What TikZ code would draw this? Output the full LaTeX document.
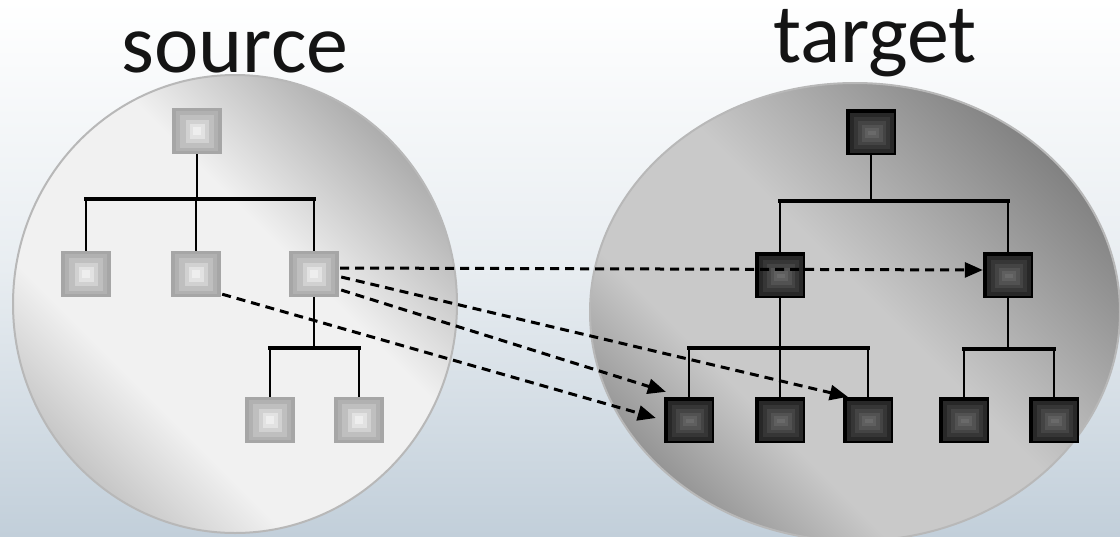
\documentclass[tikz,border=0pt]{standalone}
\usepackage{fontspec}
\setmainfont{Carlito}
\usetikzlibrary{arrows.meta}
\definecolor{bgmid}{HTML}{E8EDF1}
\definecolor{bgbot}{HTML}{C2CFDA}
\definecolor{sA}{HTML}{A6A6A6}
\definecolor{sB}{HTML}{B1B1B1}
\definecolor{sC}{HTML}{BFBFBF}
\definecolor{sD}{HTML}{D1D1D1}
\definecolor{sE}{HTML}{E2E2E2}
\definecolor{sF}{HTML}{EEEEEE}
\definecolor{tA}{HTML}{282828}
\definecolor{tB}{HTML}{363636}
\definecolor{tC}{HTML}{444444}
\definecolor{tD}{HTML}{525252}
\definecolor{tE}{HTML}{5F5F5F}
\definecolor{tF}{HTML}{6A6A6A}
\definecolor{txt}{HTML}{141414}
\definecolor{rim}{HTML}{B8B8B8}
\definecolor{eSl}{HTML}{C6C6C6}
\definecolor{eSm}{HTML}{F1F1F1}
\definecolor{eSr}{HTML}{ADADAD}
\definecolor{eTl}{HTML}{969696}
\definecolor{eTm}{HTML}{C9C9C9}
\definecolor{eTr}{HTML}{828282}
\pgfdeclarehorizontalshading{srcshade}{100bp}{color(0bp)=(eSl); color(25bp)=(eSl); color(36bp)=(eSm); color(58bp)=(eSm); color(75bp)=(eSr); color(100bp)=(eSr)}
\pgfdeclarehorizontalshading{tgtshade}{100bp}{color(0bp)=(eTl); color(25bp)=(eTl); color(36bp)=(eTm); color(52bp)=(eTm); color(75bp)=(eTr); color(100bp)=(eTr)}
\newcommand\nrect[5]{\fill[#1] ([shift={(#2pt,#3pt)}]path picture bounding box.center) rectangle ([shift={(#4pt,#5pt)}]path picture bounding box.center);}
\tikzset{
  srcbox/.style={rectangle, minimum width=50pt, minimum height=46pt, inner sep=0pt, fill=sA,
    path picture={
      \nrect{sB}{-21}{-20}{21}{20}
      \nrect{sC}{-17}{-16.5}{17}{16.5}
      \nrect{sD}{-11.5}{-11.5}{11.5}{11.5}
      \nrect{sE}{-7.5}{-7.5}{7.5}{7.5}
      \nrect{sF}{-4}{-4}{4}{4}
    }},
  tgtbox/.style={rectangle, minimum width=50pt, minimum height=46pt, inner sep=0pt, fill=black,
    path picture={
      \nrect{tA}{-21}{-21}{23}{19}
      \nrect{tB}{-17}{-17}{19}{15}
      \nrect{tC}{-13}{-13}{15}{11}
      \nrect{tD}{-9.5}{-9.5}{11.5}{7.5}
      \nrect{tE}{-6}{-6}{8}{4}
      \nrect{tF}{-3}{-3}{5}{1}
    }},
  tree/.style={line width=2.8pt, black},
  bar/.style={line width=3.4pt, black, line cap=rect},
  dasharrow/.style={line width=3pt, black, dash pattern=on 9pt off 6pt, -{Triangle[length=18pt,width=15pt]}},
  lbl/.style={font=\fontsize{84}{90}\selectfont, text=txt, inner sep=0pt}
}
\begin{document}
\begin{tikzpicture}[x=1pt,y=-1pt]
\useasboundingbox (0,0) rectangle (1120,536);
\shade[top color=white, bottom color=bgbot, middle color=bgmid] (0,0) rectangle (1120,536);
% ellipses
\shade[shading=srcshade, shading angle=45, draw=rim, line width=2pt] (235,304) ellipse [x radius=222pt, y radius=229pt];
\shade[shading=tgtshade, shading angle=45, draw=rim, line width=2pt] (855,312) ellipse [x radius=265pt, y radius=229pt];
% labels
\node[lbl, anchor=base] (src) at (235,72) {source};
\node[lbl, anchor=base] (tgt) at (875,62) {target};
% source tree
\node[srcbox] (s0) at (197,131) {};
\node[srcbox] (s1) at (86,274) {};
\node[srcbox] (s2) at (196,274) {};
\node[srcbox] (s3) at (314,274) {};
\node[srcbox] (s4) at (270,420) {};
\node[srcbox] (s5) at (359,420) {};
\coordinate (sj1) at (197,199);
\coordinate (sj2) at (314,348);
\draw[tree] (s0.south) -- (sj1);
\draw[bar] (s1.north |- sj1) -- (s3.north |- sj1);
\foreach \n in {s1,s2,s3} \draw[tree] (\n.north |- sj1) -- (\n.north);
\draw[tree] (s3.south) -- (sj2);
\draw[bar] (s4.north |- sj2) -- (s5.north |- sj2);
\foreach \n in {s4,s5} \draw[tree] (\n.north |- sj2) -- (\n.north);
% target tree
\node[tgtbox] (t0) at (871,132) {};
\node[tgtbox] (t1) at (780,275) {};
\node[tgtbox] (t2) at (1008,275) {};
\node[tgtbox] (t3) at (689,420) {};
\node[tgtbox] (t4) at (780,420) {};
\node[tgtbox] (t5) at (868,420) {};
\node[tgtbox] (t6) at (964,420) {};
\node[tgtbox] (t7) at (1054,420) {};
\coordinate (tj1) at (871,201);
\coordinate (tj2) at (780,348);
\coordinate (tj3) at (1008,349);
\draw[tree] (t0.south) -- (tj1);
\draw[bar] (t1.north |- tj1) -- (t2.north |- tj1);
\foreach \n in {t1,t2} \draw[tree] (\n.north |- tj1) -- (\n.north);
\draw[tree] (t1.south) -- (tj2);
\draw[bar] (t3.north |- tj2) -- (t5.north |- tj2);
\foreach \n in {t3,t4,t5} \draw[tree] (\n.north |- tj2) -- (\n.north);
\draw[tree] (t2.south) -- (tj3);
\draw[bar] (t6.north |- tj3) -- (t7.north |- tj3);
\foreach \n in {t6,t7} \draw[tree] (\n.north |- tj3) -- (\n.north);
% mapping arrows
\draw[dasharrow] ([shift={(1pt,6pt)}]s3.east) -- ([shift={(0pt,5pt)}]t2.west);
\draw[dasharrow] ([shift={(2pt,-3pt)}]s3.east) -- ([shift={(5pt,0pt)}]t5.north west);
\draw[dasharrow] ([shift={(2pt,-16pt)}]s3.east) -- ([shift={(2pt,5pt)}]t3.north west);
\draw[dasharrow] ([shift={(1pt,3pt)}]s2.south east) -- ([shift={(-8pt,2pt)}]t3.west);
\end{tikzpicture}
\end{document}
